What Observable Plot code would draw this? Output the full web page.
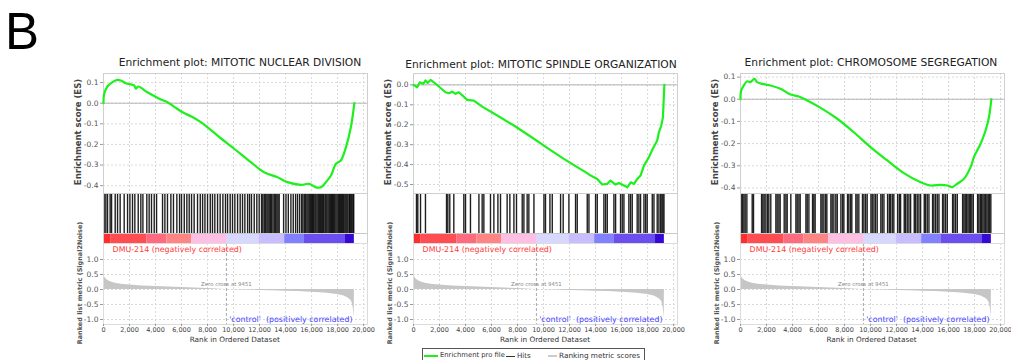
<!DOCTYPE html>
<html>
<head>
<meta charset="utf-8">
<script src="https://cdn.jsdelivr.net/npm/d3@7"></script>
<script src="https://cdn.jsdelivr.net/npm/@observablehq/plot@0.6"></script>
<style>
html,body{margin:0;padding:0;background:#fff;}
#fig{position:relative;width:1011px;height:360px;overflow:hidden;background:#fff;font-family:"DejaVu Sans",sans-serif;}
#fig svg{position:absolute;overflow:visible;background:transparent;}
.lbl{position:absolute;white-space:pre;line-height:1;}
</style>
</head>
<body>
<div id="fig"></div>
<script>
// ---------------- data ----------------
const panelLetter = "B";
const titles = [
  "Enrichment plot: MITOTIC NUCLEAR DIVISION",
  "Enrichment plot: MITOTIC SPINDLE ORGANIZATION",
  "Enrichment plot: CHROMOSOME SEGREGATION"
];
const yLabelES = "Enrichment score (ES)";
const yLabelMetric = "Ranked list metric (Signal2Noise)";
const xLabel = "Rank in Ordered Dataset";
const negLabel = "DMU-214 (negatively correlated)";
const posLabel = "'control'\u00a0 (positively correlated)";
const zeroCrossRank = 9451;
const zeroCrossLabel = "Zero cross at 9451";
const legendLabels = ["Enrichment pro file", "Hits", "Ranking metric scores"];

const xTicks = [0, 2000, 4000, 6000, 8000, 10000, 12000, 14000, 16000, 18000, 20000];
const esTicks1 = [0.1, 0, -0.1, -0.2, -0.3, -0.4];
const esTicks2 = [0, -0.1, -0.2, -0.3, -0.4, -0.5];
const esTicks3 = [0.1, 0, -0.1, -0.2, -0.3, -0.4];
const metricTicks = [1, 0.5, 0, -0.5, -1];

// running enrichment score: [rank, ES]
const es1 = [[0,0],[50,0.045],[300,0.081],[690,0.102],[1080,0.113],[1330,0.11],[1715,0.097],[2350,0.086],[2490,0.07],[2660,0.081],[3380,0.053],[4410,0.018],[4920,0.005],[5500,-0.02],[6080,-0.044],[6800,-0.066],[7480,-0.092],[8100,-0.122],[8770,-0.157],[10050,-0.221],[11330,-0.286],[12350,-0.335],[13380,-0.359],[14150,-0.383],[15180,-0.396],[15820,-0.391],[16330,-0.408],[16720,-0.408],[17100,-0.383],[17490,-0.351],[17870,-0.294],[18250,-0.278],[18640,-0.214],[19020,-0.117],[19290,0]];
const es2 = [[0,0],[280,-0.012],[490,0.013],[750,0.005],[920,0.022],[1100,0.01],[1310,0.025],[1560,0.013],[2460,-0.037],[2720,-0.042],[2970,-0.034],[3230,-0.045],[3490,-0.037],[4130,-0.075],[4640,-0.079],[5280,-0.109],[6440,-0.154],[7720,-0.204],[9000,-0.259],[10280,-0.316],[11560,-0.371],[12590,-0.413],[13230,-0.438],[13620,-0.455],[14130,-0.472],[14510,-0.5],[14900,-0.497],[15150,-0.48],[15540,-0.5],[15800,-0.492],[16180,-0.505],[16440,-0.514],[16700,-0.489],[16950,-0.497],[17210,-0.472],[17460,-0.455],[17720,-0.405],[18100,-0.363],[18360,-0.326],[18740,-0.279],[18870,-0.238],[19050,-0.204],[19180,-0.163],[19230,-0.087],[19290,0]];
const es3 = [[0,0],[50,0.039],[250,0.062],[515,0.081],[765,0.077],[895,0.084],[1080,0.092],[1280,0.077],[1665,0.069],[2310,0.062],[3075,0.047],[3850,0.021],[4485,0.012],[5130,-0.006],[6160,-0.039],[7440,-0.088],[8715,-0.149],[9995,-0.216],[11285,-0.276],[12565,-0.333],[13845,-0.374],[14610,-0.389],[15390,-0.386],[15900,-0.389],[16285,-0.396],[16670,-0.381],[17180,-0.359],[17695,-0.306],[17950,-0.261],[18460,-0.201],[18845,-0.141],[19105,-0.081],[19290,0]];

// hit positions (rank of gene-set members)
const hits1 = [50,180,310,510,620,900,1080,1280,1590,1850,2030,2230,2410,2670,2870,3030,3330,3510,3690,3900,4080,4540,4720,4920,5180,5380,5640,5850,6000,6210,6410,6590,6770,6970,7230,7440,7620,7800,8000,8210,8380,8560,8770,8970,9180,9380,9540,9740,9920,10100,10310,10510,10690,10870,11080,11230,11380,11590,11790,11970,12150,12250,12360,12450,12560,12650,12740,12830,12920,13030,13130,13230,13330,13420,13510,13850,14030,14210,14410,14590,14770,14920,15080,15230,15330,15440,15540,15640,15730,15820,15910,16000,16080,16150,16250,16330,16420,16510,16590,16670,16760,16850,16930,17030,17100,17180,17270,17360,17450,17540,17610,17690,17780,17870,17960,18050,18130,18210,18300,18380,18470,18560,18640,18720,18800,18900,18960,19030,19100,19180,19240];
const hits2 = [230,330,540,920,2540,2640,2790,3100,3870,4000,4380,5030,5280,5410,5920,6180,6490,6690,7200,7410,7720,7920,8360,8490,8740,8870,9260,10030,10150,10490,10670,11310,11510,11950,12460,12590,13360,13490,14000,14130,14640,14770,14900,15410,15540,15920,16050,16180,16560,16690,16820,17200,17330,17460,17720,17850,17970,18360,18490,18740,18870,19000,19100,19180,19260];
const hits3 = [50,150,260,360,490,900,1000,1620,1720,1820,1950,2080,2180,2330,2720,2820,2950,3050,3360,3490,3590,3870,4260,4360,4490,4590,5030,5130,5260,5540,5640,5740,6180,6280,6410,6540,6640,6950,7050,7180,7330,7440,7720,7850,7950,8230,8330,8460,8560,8870,8970,9100,9380,9490,9620,9740,10030,10130,10260,10380,10510,10790,10900,11030,11310,11440,11540,11670,11790,12080,12210,12310,12590,12690,12820,12950,13080,13360,13460,13590,13720,13850,14130,14230,14360,14490,14770,14870,15000,15130,15260,15540,15640,15770,15900,16310,16410,16540,16670,17080,17180,17280,17380,17490,17590,17690,17790,17900,18230,18330,18440,18540,18640,18740,18850,18950,19050,19150,19250];

// ranked list metric (same list for all panels)
const metricRank  = [0,30,80,200,400,700,1000,1500,2000,3000,4000,5000,6000,7000,8000,9000,9451,10000,11000,12000,13000,14000,15000,16000,17000,17500,18000,18500,18800,19000,19100,19200,19250,19280,19290];
const metricValue = [0.58,0.5,0.42,0.35,0.28,0.23,0.2,0.17,0.15,0.12,0.1,0.08,0.065,0.05,0.035,0.012,0,-0.01,-0.02,-0.03,-0.04,-0.055,-0.07,-0.09,-0.12,-0.14,-0.17,-0.22,-0.28,-0.35,-0.42,-0.6,-0.8,-0.95,0];

// colour-bar segments of the ranked list
const colorBreaks = [0,550,3330,4880,6780,9460,11950,13930,15410,18610,19290];
const colorFills  = ["#ff2e2e","#ff4d52","#ff6b7e","#ff8585","#ffbfe2","#d7d7ff","#c7bdff","#8181ff","#6a4ef0","#3608d4"];

// ---------------- drawing ----------------
const fig = document.getElementById("fig");
const FONT = "DejaVu Sans";
const W = 264, mL = 34, mR = 6;
const xDomain = [0, 20300];

function place(node, left, top) {
  node.style.left = left + "px";
  node.style.top = top + "px";
  fig.appendChild(node);
}
function label(text, cx, cy, css, rotate) {
  const d = document.createElement("div");
  d.className = "lbl";
  d.textContent = text;
  d.style.cssText += `left:${cx}px;top:${cy}px;transform:translate(-50%,-50%)${rotate ? " rotate(-90deg)" : ""};` + css;
  fig.appendChild(d);
}

const gridStyle = {stroke: "#d9d9d9", strokeOpacity: 1, strokeDasharray: "2,2"};
const metric = metricRank.map((r, i) => ({rank: r, value: metricValue[i]}));
const segs = colorFills.map((c, i) => ({x1: colorBreaks[i], x2: colorBreaks[i + 1], fill: c}));

const panels = [
  {left: 102.7, titleX: 240, titleY: 63, es: es1, curve: "catmull-rom", hits: hits1, esDomain: [-0.438, 0.144], esTicks: esTicks1},
  {left: 413,   titleX: 541, titleY: 65, es: es2, curve: "linear",      hits: hits2, esDomain: [-0.545, 0.057], esTicks: esTicks2},
  {left: 739.5, titleX: 871, titleY: 63, es: es3, curve: "catmull-rom", hits: hits3, esDomain: [-0.425, 0.116], esTicks: esTicks3}
];

panels.forEach((p, k) => {
  // title
  label(titles[k], p.titleX, p.titleY, `font-family:${FONT};font-size:10.7px;color:#222;`);

  // Enrichment score plot
  const esPlot = Plot.plot({
    width: W + mL + mR, height: 120 + 8,
    marginLeft: mL, marginRight: mR, marginTop: 4, marginBottom: 4,
    style: {fontFamily: FONT, fontSize: "7.5px", color: "#555", background: "transparent"},
    x: {domain: xDomain, axis: null},
    y: {domain: p.esDomain, axis: null},
    marks: [
      Plot.gridX(xTicks, gridStyle),
      Plot.gridY(p.esTicks, gridStyle),
      Plot.ruleY([0], {stroke: "#b5b5b5", strokeWidth: 1}),
      Plot.frame({stroke: "#cfcfcf"}),
      Plot.axisY(p.esTicks, {tickFormat: d => d.toFixed(1), tickSize: 3, tickPadding: 2, label: null, stroke: "#999", fill: "#555"}),
      Plot.line(p.es, {x: d => d[0], y: d => d[1], curve: p.curve, stroke: "#1ef01e", strokeWidth: 2.2})
    ]
  });
  place(esPlot, p.left - mL, 73 - 4);

  // hits + colour bar
  const hitPlot = Plot.plot({
    width: W + mL + mR, height: 50 + 2,
    marginLeft: mL, marginRight: mR, marginTop: 1, marginBottom: 1,
    style: {background: "transparent"},
    x: {domain: xDomain, axis: null},
    y: {domain: [0, 50], axis: null},
    color: {type: "identity"},
    marks: [
      Plot.ruleX(p.hits, {x: d => d, y1: 10, y2: 50, stroke: "#000", strokeWidth: 1.4, strokeOpacity: 0.88}),
      Plot.rect(segs, {x1: "x1", x2: "x2", y1: 0, y2: 10, fill: "fill"}),
      Plot.ruleY([10], {stroke: "#c8c8c8"}),
      Plot.frame({stroke: "#cfcfcf"})
    ]
  });
  place(hitPlot, p.left - mL, 193 - 1);

  // ranked list metric
  const rankPlot = Plot.plot({
    width: W + mL + mR, height: 81 + 1 + 22,
    marginLeft: mL, marginRight: mR, marginTop: 1, marginBottom: 22,
    style: {fontFamily: FONT, fontSize: "7px", color: "#555", background: "transparent"},
    x: {domain: xDomain, axis: null},
    y: {domain: [-1.167, 1.533], axis: null},
    marks: [
      Plot.gridX(xTicks, gridStyle),
      Plot.gridY(metricTicks, gridStyle),
      Plot.areaY(metric, {x: "rank", y: "value", fill: "#c6c6c6"}),
      Plot.ruleX([zeroCrossRank], {stroke: "#aaa", strokeDasharray: "3,2"}),
      Plot.frame({stroke: "#dcdcdc"}),
      Plot.axisY(metricTicks, {tickFormat: d => d.toFixed(1), tickSize: 3, tickPadding: 2, label: null, stroke: "#999", fill: "#555", fontSize: 7.5}),
      Plot.axisX(xTicks, {tickFormat: d3.format(","), tickSize: 2, tickPadding: 1, label: null, stroke: "#999", fill: "#444", fontSize: 6.5}),
      Plot.text([zeroCrossLabel], {x: zeroCrossRank, y: 0.17, text: d => d, fill: "#888", fontSize: 5.4}),
      Plot.text([negLabel], {x: 700, y: 1.33, text: d => d, textAnchor: "start", fill: "#ff3b3b", fontSize: 7.9}),
      Plot.text([posLabel], {x: 19150, y: -1.0, text: d => d, textAnchor: "end", fill: "#4646ff", fontSize: 7.9})
    ]
  });
  place(rankPlot, p.left - mL, 243 - 1);

  // axis titles
  label(yLabelES, p.left - 25, 132, `font-family:${FONT};font-size:8.5px;font-weight:bold;color:#444;`, true);
  label(yLabelMetric, p.left - 23, 283, `font-family:${FONT};font-size:6.5px;font-weight:bold;color:#555;`, true);
  label(xLabel, p.left + 132, 340, `font-family:${FONT};font-size:7.3px;color:#333;`);
});

// panel letter
label(panelLetter, 22, 31, `font-family:'Liberation Sans',Arial,sans-serif;font-size:51px;color:#000;`);

// legend box
const lg = document.createElement("div");
lg.style.cssText = "position:absolute;left:422px;top:348px;width:221px;height:16px;border:1px solid #555;background:#fff;";
fig.appendChild(lg);
function lgItem(html, left, size) {
  const s = document.createElement("div");
  s.style.cssText = `position:absolute;left:${left}px;top:3px;white-space:nowrap;font-family:${FONT};font-size:${size}px;color:#333;line-height:1;`;
  s.textContent = html;
  lg.appendChild(s);
}
function lgBar(left, w, h, color) {
  const b = document.createElement("div");
  b.style.cssText = `position:absolute;left:${left}px;top:${7 - h / 2}px;width:${w}px;height:${h}px;background:${color};`;
  lg.appendChild(b);
}
lgBar(1, 14, 2.5, "#1ef01e");
lgItem(legendLabels[0], 17, 6.8);
lgBar(83, 9, 1, "#333");
lgItem(legendLabels[1], 94, 7.1);
lgBar(125, 9, 1.2, "#cccccc");
lgItem(legendLabels[2], 136, 7.3);
</script>
</body>
</html>
